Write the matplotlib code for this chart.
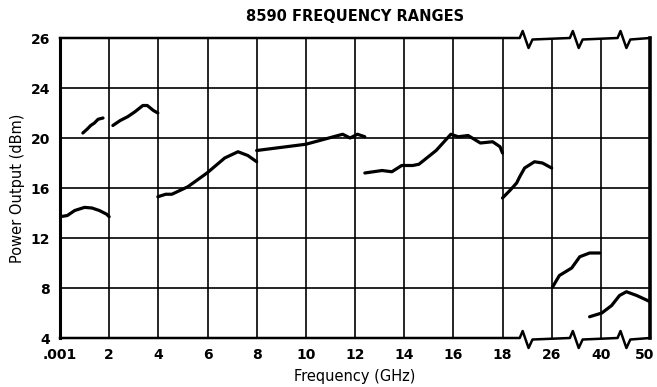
import numpy as np
import matplotlib.pyplot as plt
from matplotlib.transforms import ScaledTranslation

# frequency ticks (GHz) and power grid (dBm); axis is evenly spaced in both
freq_ticks = [0.001, 2, 4, 6, 8, 10, 12, 14, 16, 18, 26, 40, 50]
freq_labels = [".001", "2", "4", "6", "8", "10", "12", "14", "16", "18", "26", "40", "50"]
dbm_ticks = [4, 8, 12, 16, 20, 24, 26]

# power output curves, one per band (GHz, dBm)
band1_f = [0.001, 0.3, 0.6, 1.0, 1.3, 1.6, 1.9, 2.0]
band1_p = [13.7, 13.8, 14.2, 14.45, 14.4, 14.2, 13.9, 13.7]
band2a_f = [0.93, 1.1, 1.25, 1.4, 1.55, 1.75]
band2a_p = [20.4, 20.7, 21.0, 21.2, 21.5, 21.6]
band2b_f = [2.15, 2.45, 2.75, 3.05, 3.37, 3.55, 3.8, 3.98]
band2b_p = [21.0, 21.4, 21.7, 22.1, 22.6, 22.6, 22.2, 22.0]
band3_f = [3.98, 4.3, 4.55, 5.2, 5.98, 6.7, 7.24, 7.64, 8.0]
band3_p = [15.3, 15.5, 15.5, 16.1, 17.2, 18.4, 18.9, 18.6, 18.1]
band4_f = [8.0, 10.0, 11.5, 11.8, 12.1, 12.4]
band4_p = [19.0, 19.5, 20.3, 20.0, 20.3, 20.1]
band5_f = [12.4, 13.1, 13.5, 13.9, 14.35, 14.6, 15.3, 15.9, 16.2, 16.6, 17.1, 17.6, 17.9, 18.0]
band5_p = [17.2, 17.4, 17.3, 17.8, 17.8, 17.9, 19.0, 20.3, 20.1, 20.2, 19.6, 19.7, 19.3, 18.8]
band6_f = [18.0, 19.2, 20.3, 20.8, 21.6, 23.2, 24.5, 26.0]
band6_p = [15.2, 15.8, 16.4, 16.9, 17.6, 18.1, 18.0, 17.6]
band7_f = [26.3, 28.2, 31.7, 34.0, 36.8, 39.7]
band7_p = [8.1, 9.0, 9.6, 10.5, 10.8, 10.8]
band8_f = [36.8, 40.2, 42.2, 43.8, 45.2, 47.3, 49.5, 50.0]
band8_p = [5.7, 6.0, 6.6, 7.4, 7.7, 7.4, 7.0, 6.9]

bands = [(band1_f, band1_p), (band2a_f, band2a_p), (band2b_f, band2b_p),
         (band3_f, band3_p), (band4_f, band4_p), (band5_f, band5_p),
         (band6_f, band6_p), (band7_f, band7_p), (band8_f, band8_p)]

xpos = np.arange(len(freq_ticks))
ypos = np.arange(len(dbm_ticks))


def fx(f):
    return np.interp(f, freq_ticks, xpos)


def fy(p):
    return np.interp(p, dbm_ticks, ypos)


plt.rcParams['font.family'] = ['DejaVu Sans']
fig = plt.figure(figsize=(6.57, 3.87), dpi=100)
ax = fig.add_axes([60 / 657, 49 / 387, 590 / 657, 300 / 387])

for x in xpos[1:-1]:
    ax.axvline(x, color="black", lw=1.2, zorder=1)
for y in ypos[1:-1]:
    ax.axhline(y, color="black", lw=1.2, zorder=1)

for f, p in bands:
    ax.plot(fx(f), fy(p), color="black", lw=2.3, solid_capstyle="round",
            solid_joinstyle="round", zorder=3)

# top and bottom border with break marks between 18, 26, 40 and 50
breaks = [9.47, 10.49, 11.46]
ymax = ypos[-1]
for base in [ymax, 0]:
    xs, ys = [0], [base]
    for c in breaks:
        xs += [c - 0.12, c - 0.06, c + 0.06, c + 0.14]
        ys += [base, base + 0.14, base - 0.2, base - 0.03]
    xs.append(xpos[-1])
    ys.append(base)
    ax.plot(xs, ys, color="black", lw=1.8, clip_on=False, zorder=4)

for s in ["top", "bottom"]:
    ax.spines[s].set_visible(False)
ax.spines["left"].set_linewidth(2.2)
ax.spines["right"].set_linewidth(2.6)

ax.set_xlim(0, xpos[-1])
ax.set_ylim(0, ymax)
ax.set_xticks(xpos)
ax.set_xticklabels(freq_labels)
ax.set_yticks(ypos)
ax.set_yticklabels([str(v) for v in dbm_ticks])
ax.tick_params(length=0, labelsize=10, pad=7)
for lab in ax.get_xticklabels() + ax.get_yticklabels():
    lab.set_fontweight("bold")
last = ax.get_xticklabels()[-1]
last.set_transform(last.get_transform() + ScaledTranslation(-4 / 72, 0, fig.dpi_scale_trans))

ax.set_title("8590 FREQUENCY RANGES", fontsize=10.5, fontweight="bold", pad=12)
ax.set_xlabel("Frequency (GHz)", fontsize=10.5, labelpad=5)
ax.set_ylabel("Power Output (dBm)", fontsize=10.5, labelpad=4)

fig.savefig("out.png", dpi=100)
